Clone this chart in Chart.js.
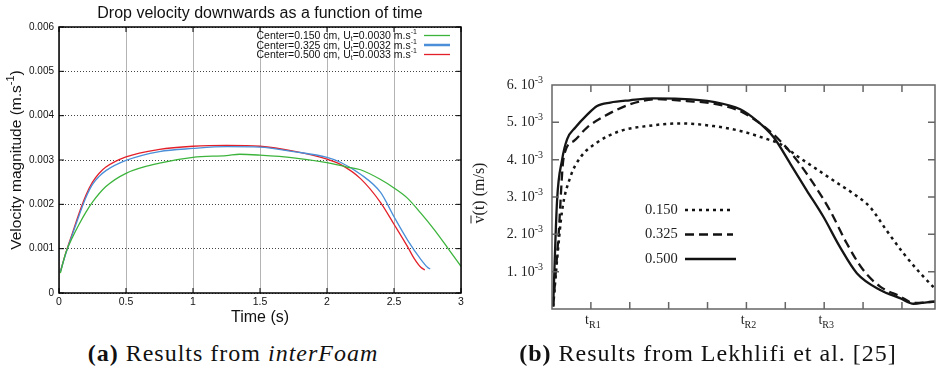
<!DOCTYPE html>
<html>
<head>
<meta charset="utf-8">
<script src="https://cdn.jsdelivr.net/npm/chart.js@4.4.0/dist/chart.umd.min.js"></script>
<style>
  body { margin: 0; background: #fff; width: 936px; height: 369px; overflow: hidden; position: relative; }
  canvas { position: absolute; }
  .cap { position: absolute; top: 340px; font-family: "Liberation Serif", serif; font-size: 24px; letter-spacing: 1px; color: #111; white-space: nowrap; transform: translateX(-50%); }
</style>
</head>
<body>
<canvas id="chartA" width="470" height="330" style="left:0;top:0"></canvas>
<canvas id="chartB" width="468" height="280" style="left:468px;top:60px"></canvas>
<div class="cap" style="left:233px"><b>(a)</b> Results from <i>interFoam</i></div>
<div class="cap" style="left:708px"><b>(b)</b> Results from Lekhlifi et al. [25]</div>
<script>
// ---- panel (a): interFoam results, time in s, velocity in m/s ----
const timeGreen = [0.01, 0.05, 0.1, 0.15, 0.2, 0.25, 0.35, 0.5, 0.75, 1, 1.25, 1.35, 1.5, 1.75, 2, 2.15, 2.25, 2.4, 2.5, 2.6, 2.7, 2.8, 2.9, 3.0];
const velGreen  = [0.45, 0.9, 1.25, 1.55, 1.82, 2.05, 2.4, 2.7, 2.93, 3.06, 3.1, 3.13, 3.11, 3.05, 2.94, 2.84, 2.78, 2.56, 2.37, 2.14, 1.8, 1.43, 1.02, 0.6];
const timeBlue  = [0.01, 0.05, 0.1, 0.15, 0.2, 0.25, 0.3, 0.35, 0.5, 0.75, 1, 1.25, 1.5, 1.75, 2, 2.1, 2.25, 2.4, 2.5, 2.6, 2.7, 2.75, 2.77];
const velBlue   = [0.48, 0.88, 1.32, 1.75, 2.15, 2.45, 2.63, 2.76, 2.99, 3.19, 3.26, 3.3, 3.29, 3.19, 3.06, 2.95, 2.68, 2.27, 1.72, 1.2, 0.76, 0.58, 0.54];
const timeRed   = [0.01, 0.05, 0.1, 0.15, 0.2, 0.25, 0.3, 0.35, 0.5, 0.75, 1, 1.25, 1.5, 1.75, 2, 2.1, 2.25, 2.4, 2.5, 2.6, 2.65, 2.7, 2.73];
const velRed    = [0.48, 0.9, 1.35, 1.8, 2.2, 2.5, 2.7, 2.84, 3.07, 3.24, 3.31, 3.33, 3.31, 3.2, 3.02, 2.9, 2.58, 2.04, 1.55, 1.05, 0.78, 0.58, 0.52];
const legendA = [
  ["Center=0.150 cm, U", "=0.0030 m.s"],
  ["Center=0.325 cm, U", "=0.0032 m.s"],
  ["Center=0.500 cm, U", "=0.0033 m.s"]
];

// ---- panel (b): Lekhlifi et al., time in tick units, velocity in 1e-3 m/s ----
const timeSolid = [0.03, 0.13, 0.26, 0.39, 0.6, 0.9, 1.16, 1.5, 2.0, 2.6, 3.3, 4.15, 4.84, 5.27, 5.7, 6.13, 6.55, 6.98, 7.4, 7.84, 8.44, 8.95, 9.3, 9.64, 9.88];
const velSolid  = [0.07, 2.9, 4.0, 4.55, 4.86, 5.2, 5.44, 5.53, 5.59, 5.64, 5.63, 5.55, 5.35, 5.04, 4.6, 3.89, 3.18, 2.47, 1.67, 0.96, 0.51, 0.29, 0.14, 0.18, 0.2];
const timeDash  = [0.03, 0.17, 0.3, 0.56, 0.9, 1.41, 2.0, 2.7, 3.47, 4.15, 4.84, 5.44, 5.87, 6.3, 6.73, 7.15, 7.58, 8.0, 8.44, 8.95, 9.3, 9.88];
const velDash   = [0.07, 2.0, 4.06, 4.5, 4.86, 5.2, 5.48, 5.62, 5.57, 5.5, 5.3, 4.9, 4.5, 3.98, 3.35, 2.64, 1.76, 1.05, 0.6, 0.34, 0.16, 0.2];
const timeDot   = [0.03, 0.13, 0.26, 0.47, 0.73, 1.16, 1.76, 2.44, 3.3, 4.15, 4.84, 5.53, 5.87, 6.3, 6.73, 7.24, 7.75, 8.18, 8.6, 9.04, 9.47, 9.88];
const velDot    = [0.07, 1.31, 2.64, 3.53, 4.06, 4.46, 4.77, 4.9, 4.97, 4.9, 4.77, 4.55, 4.42, 4.1, 3.8, 3.44, 3.09, 2.73, 2.11, 1.49, 0.96, 0.51];
const legendB = ["0.150", "0.325", "0.500"];
const xLabelsB = { 1: "R1", 5: "R2", 7: "R3" };

const pts = (xs, ys, k) => xs.map((x, i) => ({ x: x, y: ys[i] * k }));

// draw a run of text pieces with sub/superscripts
function richText(ctx, runs, family, x, y, align) {
  let w = 0;
  runs.forEach(r => { ctx.font = r.size + "px " + family; w += ctx.measureText(r.t).width; });
  let cx = align === "right" ? x - w : align === "center" ? x - w / 2 : x;
  ctx.textAlign = "left";
  ctx.textBaseline = "alphabetic";
  runs.forEach(r => {
    ctx.font = r.size + "px " + family;
    ctx.fillText(r.t, cx, y + (r.dy || 0));
    cx += ctx.measureText(r.t).width;
  });
  return w;
}

const sans = '"Liberation Sans", Arial, sans-serif';
const serif = '"Liberation Serif", "Times New Roman", serif';

const decorA = {
  id: "decorA",
  afterDraw(chart) {
    const ctx = chart.ctx, a = chart.chartArea;
    const xs = chart.scales.x, ys = chart.scales.y;
    ctx.save();
    ctx.strokeStyle = "#000";
    ctx.lineWidth = 1;
    xs.ticks.forEach(t => {
      const px = xs.getPixelForValue(t.value);
      ctx.beginPath(); ctx.moveTo(px, a.bottom); ctx.lineTo(px, a.bottom - 5);
      ctx.moveTo(px, a.top); ctx.lineTo(px, a.top + 5); ctx.stroke();
    });
    ys.ticks.forEach(t => {
      const py = ys.getPixelForValue(t.value);
      ctx.beginPath(); ctx.moveTo(a.left, py); ctx.lineTo(a.left + 5, py);
      ctx.moveTo(a.right, py); ctx.lineTo(a.right - 5, py); ctx.stroke();
    });
    ctx.lineWidth = 1.5;
    ctx.strokeRect(a.left, a.top, a.right - a.left, a.bottom - a.top);

    ctx.fillStyle = "#111";
    ctx.font = "16px " + sans;
    ctx.textAlign = "center";
    ctx.textBaseline = "middle";
    ctx.fillText("Drop velocity downwards as a function of time", (a.left + a.right) / 2, 14);
    ctx.fillText("Time (s)", (a.left + a.right) / 2, 318);

    ctx.save();
    ctx.translate(21, (a.top + a.bottom) / 2);
    ctx.rotate(-Math.PI / 2);
    richText(ctx, [{ t: "Velocity magnitude (m.s", size: 15.5 }, { t: "-1", size: 11, dy: -7 }, { t: ")", size: 15.5 }], sans, 0, 0, "center");
    ctx.restore();

    const colours = ["#3cb43c", "#4a8fd8", "#e3202a"];
    legendA.forEach((row, i) => {
      const y = 39 + i * 9.5;
      ctx.fillStyle = "#111";
      richText(ctx, [
        { t: row[0], size: 10.5 }, { t: "t", size: 7, dy: 2 },
        { t: row[1], size: 10.5 }, { t: "-1", size: 7, dy: -5 }
      ], sans, 417, y, "right");
      ctx.strokeStyle = colours[i];
      ctx.lineWidth = i === 1 ? 2.5 : 1.3;
      ctx.beginPath(); ctx.moveTo(424, y - 3.5); ctx.lineTo(450, y - 3.5); ctx.stroke();
    });
    ctx.restore();
  }
};

new Chart(document.getElementById("chartA"), {
  type: "line",
  data: {
    datasets: [
      { label: "0.150", data: pts(timeGreen, velGreen, 0.001), borderColor: "#3cb43c" },
      { label: "0.325", data: pts(timeBlue, velBlue, 0.001), borderColor: "#4a8fd8" },
      { label: "0.500", data: pts(timeRed, velRed, 0.001), borderColor: "#e3202a" }
    ]
  },
  options: {
    responsive: false,
    animation: false,
    devicePixelRatio: 1,
    layout: { padding: { left: 0, top: 27, right: 9, bottom: 0 } },
    elements: { point: { radius: 0 }, line: { borderWidth: 1.3, cubicInterpolationMode: "monotone" } },
    plugins: { legend: { display: false }, tooltip: { enabled: false } },
    scales: {
      x: {
        type: "linear", min: 0, max: 3,
        ticks: { stepSize: 0.5, color: "#111", font: { family: sans, size: 10.5 }, padding: 3, maxRotation: 0,
          callback: v => String(v) },
        grid: { color: "#b4b4b4", lineWidth: 1, drawTicks: false },
        border: { display: false },
        afterFit(s) { s.height = 37; }
      },
      y: {
        min: 0, max: 0.006,
        ticks: { stepSize: 0.001, color: "#111", font: { family: sans, size: 10 }, padding: 5,
          callback: v => v === 0 ? "0" : v.toFixed(3) },
        grid: { color: "#444", lineWidth: 1, drawTicks: false },
        border: { display: false, dash: [1, 2] },
        afterFit(s) { s.width = 59; }
      }
    }
  },
  plugins: [decorA]
});

const decorB = {
  id: "decorB",
  afterDraw(chart) {
    const ctx = chart.ctx, a = chart.chartArea;
    const xs = chart.scales.x, ys = chart.scales.y;
    ctx.save();
    ctx.strokeStyle = "#666";
    ctx.lineWidth = 1.5;
    for (let v = 1; v <= 9; v++) {
      const px = xs.getPixelForValue(v);
      ctx.beginPath(); ctx.moveTo(px, a.bottom); ctx.lineTo(px, a.bottom - 7);
      ctx.moveTo(px, a.top); ctx.lineTo(px, a.top + 7); ctx.stroke();
    }
    for (let v = 1; v <= 5; v++) {
      const py = ys.getPixelForValue(v);
      ctx.beginPath(); ctx.moveTo(a.left, py); ctx.lineTo(a.left + 7, py);
      ctx.moveTo(a.right, py); ctx.lineTo(a.right - 7, py); ctx.stroke();
    }
    ctx.beginPath();
    ctx.moveTo(a.left, a.top); ctx.lineTo(a.right, a.top); ctx.lineTo(a.right, a.bottom);
    ctx.lineTo(a.left, a.bottom); ctx.closePath(); ctx.stroke();

    ctx.fillStyle = "#222";
    for (let v = 1; v <= 6; v++) {
      const py = ys.getPixelForValue(v);
      richText(ctx, [{ t: v + ". 10", size: 14 }, { t: "-3", size: 10, dy: -6 }], serif, 75, py + 4, "right");
    }
    Object.keys(xLabelsB).forEach(k => {
      const px = xs.getPixelForValue(+k);
      richText(ctx, [{ t: "t", size: 14 }, { t: xLabelsB[k], size: 10, dy: 4 }], serif, px + 2, a.bottom + 15, "center");
    });

    ctx.save();
    ctx.translate(16, 133);
    ctx.rotate(-Math.PI / 2);
    const w = richText(ctx, [{ t: "v(t) (m/s)", size: 16 }], serif, 0, 0, "center");
    ctx.font = "16px " + serif;
    const vw = ctx.measureText("v").width;
    ctx.lineWidth = 1;
    ctx.strokeStyle = "#222";
    ctx.beginPath(); ctx.moveTo(-w / 2, -13); ctx.lineTo(-w / 2 + vw, -13); ctx.stroke();
    ctx.restore();

    const dashes = [[3, 4], [9, 5], []];
    const widths = [2.5, 2.3, 2.3];
    legendB.forEach((lab, i) => {
      const y = 150 + i * 24.5;
      ctx.fillStyle = "#222";
      ctx.font = "14.5px " + serif;
      ctx.textAlign = "left";
      ctx.textBaseline = "middle";
      ctx.fillText(lab, 177, y);
      ctx.strokeStyle = "#111";
      ctx.lineWidth = widths[i];
      ctx.setLineDash(dashes[i]);
      ctx.beginPath(); ctx.moveTo(217, y); ctx.lineTo(i === 2 ? 268 : 265, y); ctx.stroke();
    });
    ctx.setLineDash([]);
    ctx.restore();
  }
};

new Chart(document.getElementById("chartB"), {
  type: "line",
  data: {
    datasets: [
      { label: "0.150", data: pts(timeDot, velDot, 1), borderColor: "#151515", borderWidth: 2.5, borderDash: [3, 4] },
      { label: "0.325", data: pts(timeDash, velDash, 1), borderColor: "#151515", borderWidth: 2.3, borderDash: [9, 5] },
      { label: "0.500", data: pts(timeSolid, velSolid, 1), borderColor: "#151515", borderWidth: 2.3 }
    ]
  },
  options: {
    responsive: false,
    animation: false,
    devicePixelRatio: 1,
    layout: { padding: { left: 0, top: 25, right: 1, bottom: 0 } },
    elements: { point: { radius: 0 }, line: { cubicInterpolationMode: "monotone" } },
    plugins: { legend: { display: false }, tooltip: { enabled: false } },
    scales: {
      x: {
        type: "linear", min: 0, max: 9.85,
        ticks: { display: false },
        grid: { display: false },
        border: { display: false },
        afterFit(s) { s.height = 31; }
      },
      y: {
        min: 0, max: 6,
        ticks: { display: false },
        grid: { display: false },
        border: { display: false },
        afterFit(s) { s.width = 84; }
      }
    }
  },
  plugins: [decorB]
});
</script>
</body>
</html>
